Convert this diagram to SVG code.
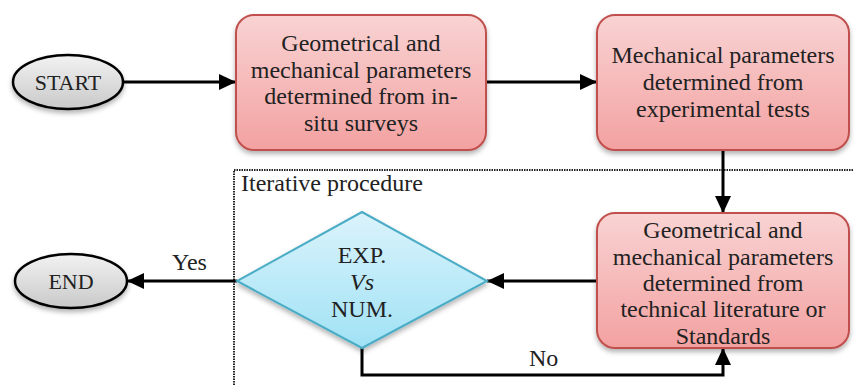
<svg xmlns="http://www.w3.org/2000/svg" width="854" height="385" viewBox="0 0 854 385">
<defs>
<linearGradient id="gRed" x1="0" y1="0" x2="0" y2="1"><stop offset="0" stop-color="#f9d3d3"/><stop offset="1" stop-color="#f3a1a1"/></linearGradient>
<linearGradient id="gBlue" x1="0" y1="0" x2="0" y2="1"><stop offset="0" stop-color="#dbf3fb"/><stop offset="1" stop-color="#a0e2f5"/></linearGradient>
<linearGradient id="gGray" x1="0" y1="0" x2="0" y2="1"><stop offset="0" stop-color="#f2f2f2"/><stop offset="1" stop-color="#c9c9c9"/></linearGradient>
<filter id="sh" x="-10%" y="-10%" width="120%" height="130%"><feDropShadow dx="0" dy="3" stdDeviation="2.5" flood-color="#000" flood-opacity="0.3"/></filter>
<marker id="arr" markerWidth="17" markerHeight="16" refX="17" refY="8" orient="auto" markerUnits="userSpaceOnUse" viewBox="0 0 17 16"><path d="M0,0 L17,8 L0,16 z" fill="#000"/></marker>
</defs>
<style>
.t{font-family:"Liberation Serif","Times New Roman",serif;font-size:24px;fill:#222;text-anchor:middle}
.s{font-size:22px}
.lbl{font-family:"Liberation Serif","Times New Roman",serif;font-size:24px;fill:#222}
.box{fill:url(#gRed);stroke:#c0504d;stroke-width:2;filter:url(#sh)}
.dia{fill:url(#gBlue);stroke:#4bacc6;stroke-width:2;filter:url(#sh)}
.ell{fill:url(#gGray);stroke:#000;stroke-width:2.5;filter:url(#sh)}
.c{fill:none;stroke:#000;stroke-width:3}
.dot{fill:none;stroke:#222;stroke-width:2;stroke-dasharray:1.5 1}
</style>
<g id="iterative-frame">
<path class="dot" d="M234,385 V170 H854"/>
<text class="lbl" x="241" y="191">Iterative procedure</text>
</g>
<g id="connectors">
<path class="c" d="M124,82 H236" marker-end="url(#arr)"/>
<path class="c" d="M487,82 H597" marker-end="url(#arr)"/>
<path class="c" d="M723,150 V213" marker-end="url(#arr)"/>
<path class="c" d="M597,281 H487" marker-end="url(#arr)"/>
<path class="c" d="M237,281 H127" marker-end="url(#arr)"/>
<path class="c" d="M362,348 V375 H723 V348" marker-end="url(#arr)"/>
<text class="lbl" x="172" y="270">Yes</text>
<text class="lbl" x="529" y="366">No</text>
</g>
<g id="start">
<ellipse class="ell" cx="68" cy="82" rx="55" ry="27"/>
<text class="t s" x="68" y="90">START</text>
</g>
<g id="box-insitu">
<rect class="box" x="236" y="15" width="250" height="135" rx="18"/>
<text class="t" x="361" y="51">Geometrical and</text>
<text class="t" x="361" y="77.5">mechanical parameters</text>
<text class="t" x="361" y="104">determined from in-</text>
<text class="t" x="361" y="130.5">situ surveys</text>
</g>
<g id="box-experimental">
<rect class="box" x="597" y="15" width="252" height="135" rx="18"/>
<text class="t" x="723" y="63">Mechanical parameters</text>
<text class="t" x="723" y="90">determined from</text>
<text class="t" x="723" y="116.5">experimental tests</text>
</g>
<g id="box-literature">
<rect class="box" x="597" y="213" width="252" height="135" rx="18"/>
<text class="t" x="723" y="238">Geometrical and</text>
<text class="t" x="723" y="264.5">mechanical parameters</text>
<text class="t" x="723" y="291">determined from</text>
<text class="t" x="723" y="317">technical literature or</text>
<text class="t" x="723" y="343.5">Standards</text>
</g>
<g id="decision">
<polygon class="dia" points="362,212 487,281 362,348 237,281"/>
<text class="t" x="362" y="263">EXP.</text>
<text class="t" x="362" y="290" font-style="italic">Vs</text>
<text class="t" x="362" y="317">NUM.</text>
</g>
<g id="end">
<ellipse class="ell" cx="71" cy="281" rx="56" ry="27"/>
<text class="t s" x="71" y="289">END</text>
</g>
</svg>
